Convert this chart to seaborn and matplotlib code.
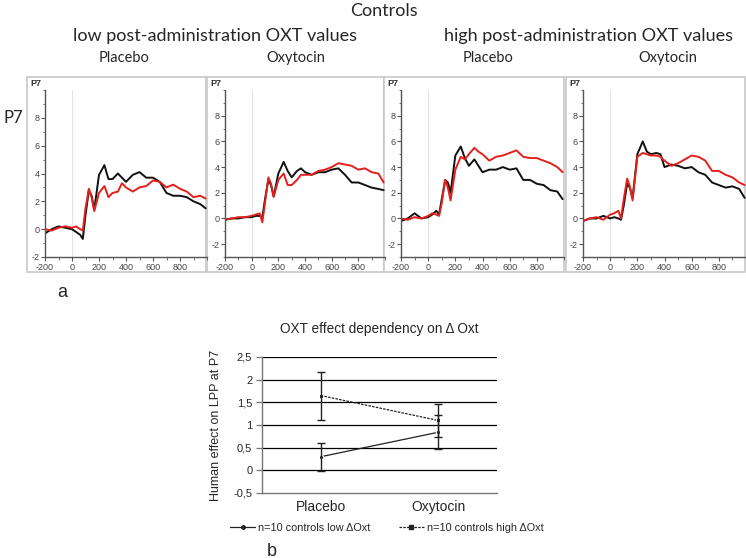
import numpy as np
import pandas as pd
import matplotlib
matplotlib.use("Agg")
import matplotlib.pyplot as plt
from matplotlib.patches import Rectangle
from matplotlib.lines import Line2D
from matplotlib.ticker import MultipleLocator, FuncFormatter
import seaborn as sns

# ---- data ----------------------------------------------------------------
# ERP time points (ms)
times = [-200, -150, -100, -50, 0, 30, 60, 80, 100, 125, 145, 165, 200, 240,
         270, 300, 340, 370, 400, 450, 500, 550, 600, 650, 700, 750, 800,
         850, 900, 950, 990]

# low post-administration OXT values
low_plc_black = [-0.3, 0.0, 0.2, 0.1, 0.0, -0.2, -0.4, -0.7, 1.0, 2.8, 2.4, 1.4, 3.9, 4.6,
                 3.6, 3.6, 4.0, 3.7, 3.4, 3.9, 4.1, 3.7, 3.7, 3.4, 2.6, 2.4, 2.4,
                 2.3, 2.0, 1.8, 1.5]
low_plc_red = [0.0, -0.1, 0.1, 0.2, 0.1, 0.2, 0.0, -0.1, 1.5, 2.9, 2.3, 1.3, 2.6, 3.1,
               2.3, 2.6, 2.7, 3.3, 3.0, 2.7, 3.0, 3.1, 3.5, 3.4, 3.0, 3.2, 2.9,
               2.7, 2.3, 2.4, 2.2]
low_oxt_black = [-0.1, 0.0, 0.0, 0.1, 0.1, 0.2, 0.2, 0.1, 1.5, 3.0, 2.6, 1.7, 3.5, 4.4,
                 3.7, 3.2, 3.7, 3.9, 3.6, 3.4, 3.6, 3.6, 3.8, 3.9, 3.4, 2.8, 2.8,
                 2.6, 2.4, 2.3, 2.2]
low_oxt_red = [-0.1, 0.0, 0.1, 0.1, 0.2, 0.3, 0.4, -0.3, 1.2, 3.2, 2.7, 1.7, 3.0, 3.5,
               2.6, 2.6, 3.0, 3.4, 3.4, 3.4, 3.7, 3.8, 4.0, 4.3, 4.2, 4.1, 3.8,
               3.9, 3.6, 3.5, 2.8]
# high post-administration OXT values
high_plc_black = [-0.2, 0.0, 0.4, 0.0, 0.1, 0.3, 0.6, 0.3, 1.5, 3.0, 2.8, 2.0, 4.9, 5.6,
                  4.7, 4.1, 4.6, 4.1, 3.6, 3.8, 3.8, 4.0, 3.8, 3.9, 3.0, 3.0, 2.7,
                  2.6, 2.2, 2.1, 1.5]
high_plc_red = [0.0, -0.1, 0.1, 0.0, 0.2, 0.4, 0.3, 0.2, 1.2, 3.0, 2.4, 1.4, 3.8, 4.8,
                4.6, 5.0, 5.5, 5.2, 5.0, 4.5, 4.8, 4.9, 5.1, 5.3, 4.8, 4.7, 4.7,
                4.5, 4.3, 4.0, 3.6]
high_oxt_black = [-0.2, 0.0, 0.0, 0.2, 0.0, 0.1, 0.0, -0.1, 1.0, 2.7, 2.4, 1.6, 5.0, 6.0,
                  5.2, 5.0, 5.1, 5.0, 4.0, 4.2, 4.1, 3.9, 4.0, 3.6, 3.4, 2.8, 2.6,
                  2.4, 2.5, 2.3, 1.6]
high_oxt_red = [-0.2, 0.0, 0.1, -0.1, 0.3, 0.4, 0.6, 0.0, 1.5, 3.1, 2.5, 1.4, 4.8, 5.1,
                5.0, 4.9, 4.9, 4.8, 4.5, 4.1, 4.3, 4.6, 4.9, 4.8, 4.5, 3.7, 3.7,
                3.4, 3.2, 2.8, 2.6]

panel_titles = ["Placebo", "Oxytocin", "Placebo", "Oxytocin"]

# bottom chart
conditions = ["Placebo", "Oxytocin"]
low_mean = [0.30, 0.84]
low_err = [0.31, 0.38]
high_mean = [1.65, 1.10]
high_err = [0.53, 0.37]

# ---- layout helpers ------------------------------------------------------
W, H = 746, 558
sns.set_style("white")
plt.rcParams["font.family"] = ["Liberation Sans", "DejaVu Sans"]
plt.rcParams["axes.unicode_minus"] = False

fig = plt.figure(figsize=(W / 100, H / 100), dpi=100)


def rect(l, t, r, b):
    return [l / W, 1 - b / H, (r - l) / W, (b - t) / H]


def ftext(x, y, s, **kw):
    fig.text(x / W, 1 - y / H, s, **kw)


title_font = ["Lato", "DejaVu Sans"]
ftext(384, 11, "Controls", ha="center", va="center", fontsize=13, family=title_font)
ftext(215, 36, "low post-administration OXT values", ha="center", va="center",
      fontsize=13, family=title_font)
ftext(589, 36, "high post-administration OXT values", ha="center", va="center",
      fontsize=13, family=title_font)
ftext(13, 118, "P7", ha="center", va="center", fontsize=12, family=title_font)
ftext(62, 292, "a", ha="center", va="center", fontsize=13)
ftext(272, 551, "b", ha="center", va="center", fontsize=13)

# ---- top ERP panels ------------------------------------------------------
frames = [(27, 206), (207, 384), (384, 564), (566, 745)]
axes_px = [(45, 207), (225, 385), (401, 564), (583, 746)]
title_x = [124, 296, 488, 668]
ylims = [(-2, 10), (-3, 10), (-3, 10), (-3, 10)]
series = [(low_plc_black, low_plc_red), (low_oxt_black, low_oxt_red),
          (high_plc_black, high_plc_red), (high_oxt_black, high_oxt_red)]

for i in range(4):
    fl, fr = frames[i]
    fig.add_artist(Rectangle((fl / W, 1 - 272 / H), (fr - fl) / W, 195 / H,
                             transform=fig.transFigure, fc="white",
                             ec="#c8c8c8", lw=1.2, zorder=0))
    ftext(fl + 3, 84, "P7", ha="left", va="center", fontsize=6.5,
          fontweight="bold", color="#333333")
    ftext(title_x[i], 58, panel_titles[i], ha="center", va="center",
          fontsize=10.5, family=title_font)

    al, ar = axes_px[i]
    ax = fig.add_axes(rect(al, 90, ar, 257))
    ax.set_facecolor("none")
    black, red = series[i]
    df = pd.DataFrame({
        "t": times * 2,
        "uV": black + red,
        "cond": ["black"] * len(times) + ["red"] * len(times),
    })
    ax.axvline(0, color="#e4e4e4", lw=0.8, zorder=0)
    sns.lineplot(data=df, x="t", y="uV", hue="cond",
                 palette={"black": "#111111", "red": "#e3201b"},
                 linewidth=1.4, legend=False, ax=ax)
    ax.set_xlim(-200, 1000)
    ax.set_ylim(*ylims[i])
    ax.set_xticks([-200, 0, 200, 400, 600, 800])
    ax.set_yticks([t for t in range(-2, 9, 2) if t >= ylims[i][0]])
    ax.xaxis.set_minor_locator(MultipleLocator(100))
    ax.yaxis.set_minor_locator(MultipleLocator(1))
    ax.set_xlabel("")
    ax.set_ylabel("")
    for s in ["top", "right"]:
        ax.spines[s].set_visible(False)
    for s in ["left", "bottom"]:
        ax.spines[s].set_color("#555555")
        ax.spines[s].set_linewidth(1.0)
    ax.tick_params(which="major", direction="out", length=3, width=0.8,
                   color="#555555", labelsize=6.5, labelcolor="#444444", pad=1)
    ax.tick_params(which="minor", direction="out", length=1.8, width=0.6,
                   color="#555555")
    ax.tick_params(axis="x", which="both", bottom=True)
    ax.tick_params(axis="y", which="both", left=True)

# ---- bottom chart --------------------------------------------------------
bx = fig.add_axes(rect(262, 357, 497, 493))
bx.set_facecolor("none")
dfb = pd.DataFrame({
    "cond": conditions * 2,
    "value": low_mean + high_mean,
    "group": ["low"] * 2 + ["high"] * 2,
})
for yv in np.arange(0, 2.51, 0.5):
    bx.axhline(yv, color="black", lw=0.9, zorder=0)
sns.lineplot(data=dfb, x="cond", y="value", hue="group", style="group",
             palette={"low": "#222222", "high": "#222222"},
             dashes={"low": "", "high": (2, 1)}, markers={"low": "o", "high": "s"},
             markersize=3, linewidth=0.9, legend=False, ax=bx, sort=False)
xpos = np.arange(len(conditions))
bx.errorbar(xpos, low_mean, yerr=low_err, fmt="none", ecolor="#222222",
            elinewidth=1.0, capsize=3, capthick=1.0)
bx.errorbar(xpos, high_mean, yerr=high_err, fmt="none", ecolor="#222222",
            elinewidth=1.0, capsize=3, capthick=1.0)
bx.set_xlim(-0.5, 1.5)
bx.set_ylim(-0.5, 2.5)
bx.set_yticks(np.arange(-0.5, 2.51, 0.5))
bx.yaxis.set_major_formatter(FuncFormatter(
    lambda v, p: ("%g" % round(v, 1)).replace(".", ",")))
bx.set_xticks(xpos)
bx.set_xticklabels(conditions, fontsize=10)
bx.set_xlabel("")
bx.set_ylabel("Human effect on LPP at P7", fontsize=9, labelpad=8)
bx.set_title("OXT effect dependency on \u0394 Oxt", fontsize=9.8, pad=17)
for s in ["top", "right"]:
    bx.spines[s].set_visible(False)
for s in ["left", "bottom"]:
    bx.spines[s].set_color("#777777")
    bx.spines[s].set_linewidth(1.0)
bx.tick_params(axis="y", direction="out", length=4, width=0.9, color="#777777",
               labelsize=8, left=True, pad=3)
bx.tick_params(axis="x", length=0, pad=5)

handles = [
    Line2D([], [], color="#222222", lw=0.9, marker="o", markersize=2.5),
    Line2D([], [], color="#222222", lw=0.9, ls=(0, (2, 1)), marker="s", markersize=2.5),
]
fig.legend(handles, ["n=10 controls low \u0394Oxt", "n=10 controls high \u0394Oxt"],
           loc="center", bbox_to_anchor=(387 / W, 1 - 528 / H), ncol=2,
           frameon=False, fontsize=7.8, handlelength=2.3, columnspacing=2.6,
           handletextpad=0.3)

fig.savefig("out.png", dpi=100)
